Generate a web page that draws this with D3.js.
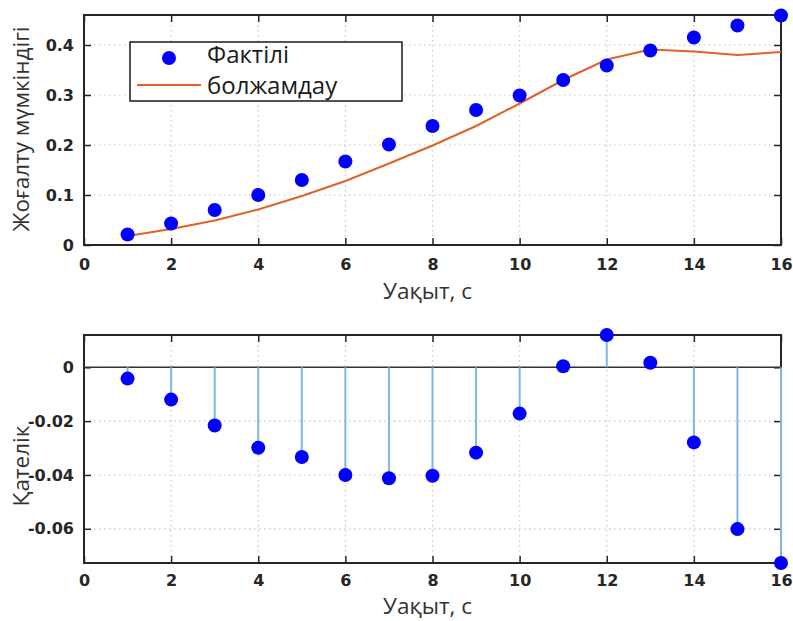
<!DOCTYPE html>
<html>
<head>
<meta charset="utf-8">
<script src="https://cdn.jsdelivr.net/npm/d3@7"></script>
<style>
  body { margin: 0; background: #fff; }
  svg { display: block; }
  .tick-label { font-family: "DejaVu Sans", sans-serif; font-weight: bold; font-size: 16px; fill: #262626; }
  .axis-title { font-family: "Open Sans", sans-serif; font-size: 22.5px; fill: #333; }
  .legend-text { font-family: "Open Sans", sans-serif; font-size: 24px; fill: #1a1a1a; }
</style>
</head>
<body>
<script>
// time steps, s
const time = [1, 2, 3, 4, 5, 6, 7, 8, 9, 10, 11, 12, 13, 14, 15, 16];
// actual loss probability (Фактілі)
const actual = [0.021, 0.043, 0.070, 0.100, 0.130, 0.167, 0.201, 0.238, 0.270, 0.299, 0.330, 0.359, 0.389, 0.415, 0.439, 0.459];
// forecast (болжамдау)
const forecast = [0.018, 0.032, 0.049, 0.071, 0.098, 0.128, 0.163, 0.199, 0.238, 0.283, 0.330, 0.371, 0.391, 0.387, 0.380, 0.386];
// error (Қателік)
const error = [-0.0042, -0.0120, -0.0216, -0.0299, -0.0333, -0.0400, -0.0412, -0.0403, -0.0317, -0.0172, 0.0004, 0.0120, 0.0017, -0.0279, -0.0601, -0.0727];

const xTicks = [0, 2, 4, 6, 8, 10, 12, 14, 16];
const topYTicks = [0, 0.1, 0.2, 0.3, 0.4];
const botYTicks = [-0.06, -0.04, -0.02, 0];

const width = 793, height = 621;
const frameColor = "#262626";
const gridColor = "#c8c8c8";

const svg = d3.select("body").append("svg")
    .attr("width", width)
    .attr("height", height);

const x = d3.scaleLinear().domain([0, 16]).range([84, 781]);

function panel({yDomain, yRange, yTicks, yFormat, yTitle, titleY, xPad, xTitleOffset}) {
  const y = d3.scaleLinear().domain(yDomain).range(yRange);
  const g = svg.append("g");
  const [x0, x1] = x.range();
  const [yb, yt] = y.range();

  // grid
  g.append("g").selectAll("line.vg")
    .data(xTicks.filter(d => d > 0 && d < 16))
    .join("line")
      .attr("x1", d => x(d)).attr("x2", d => x(d))
      .attr("y1", yt).attr("y2", yb)
      .attr("stroke", gridColor).attr("stroke-width", 1.2)
      .attr("stroke-dasharray", "1.5,3.5");
  g.append("g").selectAll("line.hg")
    .data(yTicks.filter(d => y(d) < yb - 1 && y(d) > yt + 1))
    .join("line")
      .attr("x1", x0).attr("x2", x1)
      .attr("y1", d => y(d)).attr("y2", d => y(d))
      .attr("stroke", gridColor).attr("stroke-width", 1.2)
      .attr("stroke-dasharray", "1.5,3.5");

  // axes with inward ticks on all four sides
  const tl = 7;
  const bottom = g.append("g").attr("transform", `translate(0,${yb})`)
    .call(d3.axisBottom(x).tickValues(xTicks).tickSize(-tl).tickPadding(xPad).tickFormat(d3.format("d")));
  const top = g.append("g").attr("transform", `translate(0,${yt})`)
    .call(d3.axisTop(x).tickValues(xTicks).tickSize(-tl).tickFormat(""));
  const left = g.append("g").attr("transform", `translate(${x0},0)`)
    .call(d3.axisLeft(y).tickValues(yTicks).tickSize(-tl).tickPadding(10).tickFormat(yFormat));
  const right = g.append("g").attr("transform", `translate(${x1},0)`)
    .call(d3.axisRight(y).tickValues(yTicks).tickSize(-tl).tickFormat(""));
  [bottom, top, left, right].forEach(a => {
    a.select(".domain").remove();
    a.selectAll(".tick line").attr("stroke", frameColor).attr("stroke-width", 1.5);
    a.selectAll("text").attr("class", "tick-label").attr("fill", null);
  });

  g.append("rect")
    .attr("x", x0).attr("y", yt)
    .attr("width", x1 - x0).attr("height", yb - yt)
    .attr("fill", "none").attr("stroke", frameColor).attr("stroke-width", 2);

  // titles
  g.append("text").attr("class", "axis-title")
    .attr("text-anchor", "middle")
    .attr("x", (x0 + x1) / 2 - 5).attr("y", yb + xTitleOffset)
    .text("Уақыт, с");
  g.append("text").attr("class", "axis-title")
    .attr("text-anchor", "middle")
    .attr("transform", `translate(29,${titleY}) rotate(-90)`)
    .text(yTitle);

  return {g, y};
}

// top panel
const p1 = panel({
  yDomain: [0, 0.46], yRange: [245, 15], yTicks: topYTicks,
  yFormat: d => d === 0 ? "0" : d3.format(".1f")(d),
  yTitle: "Жоғалту мүмкіндігі", titleY: 129, xPad: 14, xTitleOffset: 54
});

const line = d3.line().x((d, i) => x(time[i])).y(d => p1.y(d));
p1.g.append("path")
  .datum(forecast)
  .attr("d", line)
  .attr("fill", "none")
  .attr("stroke", "#e0622a")
  .attr("stroke-width", 2);

p1.g.append("g").selectAll("circle")
  .data(actual)
  .join("circle")
    .attr("cx", (d, i) => x(time[i]))
    .attr("cy", d => p1.y(d))
    .attr("r", 7)
    .attr("fill", "#0000ff");

// legend
const lg = p1.g.append("g");
lg.append("rect")
  .attr("x", 130).attr("y", 42).attr("width", 272).attr("height", 59)
  .attr("fill", "#fff").attr("stroke", "#1a1a1a").attr("stroke-width", 1.5);
lg.append("circle").attr("cx", 169).attr("cy", 58).attr("r", 7).attr("fill", "#0000ff");
lg.append("line").attr("x1", 137).attr("x2", 201).attr("y1", 85).attr("y2", 85)
  .attr("stroke", "#e0622a").attr("stroke-width", 2);
lg.append("text").attr("class", "legend-text").attr("x", 207).attr("y", 63).text("Фактілі");
lg.append("text").attr("class", "legend-text").attr("x", 207).attr("y", 94).text("болжамдау");

// bottom panel
const p2 = panel({
  yDomain: [-0.0727, 0.012], yRange: [563, 335], yTicks: botYTicks,
  yFormat: d => d === 0 ? "0" : d3.format(".2f")(d).replace("−", "-"),
  yTitle: "Қателік", titleY: 466, xPad: 12, xTitleOffset: 51
});

p2.g.append("line")
  .attr("x1", x.range()[0]).attr("x2", x.range()[1])
  .attr("y1", p2.y(0)).attr("y2", p2.y(0))
  .attr("stroke", "#333").attr("stroke-width", 1.5);

p2.g.append("g").selectAll("line")
  .data(error)
  .join("line")
    .attr("x1", (d, i) => x(time[i])).attr("x2", (d, i) => x(time[i]))
    .attr("y1", p2.y(0)).attr("y2", d => p2.y(d))
    .attr("stroke", "#7db8e3").attr("stroke-width", 2);

p2.g.append("g").selectAll("circle")
  .data(error)
  .join("circle")
    .attr("cx", (d, i) => x(time[i]))
    .attr("cy", d => p2.y(d))
    .attr("r", 7)
    .attr("fill", "#0000ff");
</script>
</body>
</html>
